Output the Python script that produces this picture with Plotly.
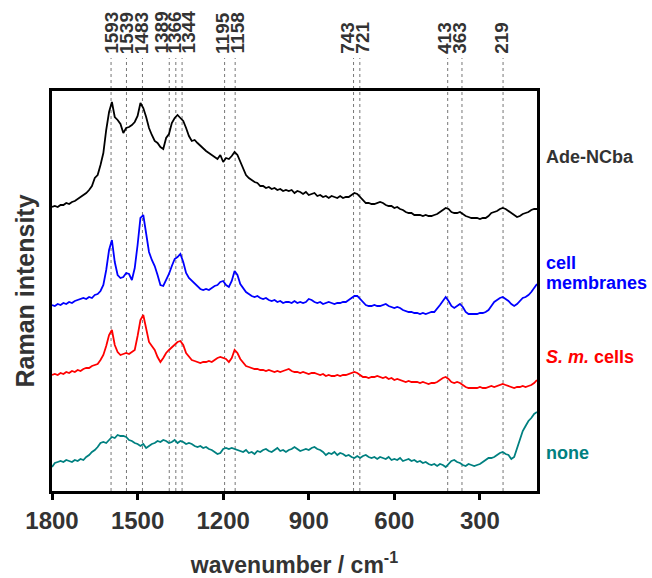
import plotly.graph_objects as go

# wavenumber grid (cm^-1), shared by all spectra
wavenumber = list(range(1800, 99, -10))

ade_ncba = [284, 285, 284, 286, 286, 288, 287, 289, 290, 292, 294, 296, 298, 301, 305, 313, 316, 326, 338, 361,
            379, 389, 374, 371, 367, 358, 363, 364, 366, 369, 375, 388, 383, 374, 363, 356, 350, 348, 344, 342,
            353, 357, 368, 373, 376, 373, 370, 363, 355, 350, 351, 348, 345, 343, 340, 338, 336, 334, 332, 336,
            329, 333, 332, 335, 339, 336, 329, 322, 316, 313, 311, 309, 308, 305, 305, 303, 304, 302, 303, 301,
            302, 300, 301, 300, 301, 298, 300, 299, 297, 299, 296, 297, 298, 295, 296, 294, 295, 293, 295, 294,
            293, 295, 293, 294, 294, 296, 298, 297, 294, 291, 288, 288, 287, 287, 288, 289, 288, 286, 285, 285,
            283, 284, 282, 281, 279, 278, 278, 276, 276, 276, 275, 276, 275, 275, 276, 277, 279, 281, 283, 282,
            279, 278, 278, 279, 277, 275, 274, 273, 273, 273, 272, 273, 273, 275, 278, 279, 280, 282, 283, 282,
            280, 278, 276, 274, 275, 277, 278, 279, 281, 282, 282]

cell_membranes = [186, 185, 187, 186, 188, 187, 189, 188, 190, 191, 192, 193, 192, 194, 193, 196, 197, 200, 206, 221,
                  241, 251, 229, 216, 213, 214, 218, 217, 211, 223, 246, 273, 276, 255, 239, 231, 225, 216, 206, 205,
                  211, 217, 225, 232, 234, 237, 229, 218, 213, 210, 207, 205, 202, 201, 202, 201, 203, 205, 206, 209,
                  210, 206, 204, 210, 220, 216, 207, 203, 199, 197, 195, 194, 195, 193, 192, 193, 191, 190, 191, 189,
                  190, 188, 189, 189, 188, 190, 188, 189, 188, 189, 192, 191, 189, 188, 189, 187, 188, 189, 188, 187,
                  188, 188, 189, 189, 191, 193, 195, 195, 192, 189, 186, 185, 185, 186, 185, 185, 186, 187, 185, 184,
                  183, 184, 183, 181, 180, 179, 179, 178, 178, 177, 178, 177, 178, 179, 179, 182, 186, 190, 194, 190,
                  185, 183, 185, 187, 184, 179, 177, 177, 177, 177, 178, 178, 179, 181, 185, 189, 191, 193, 194, 192,
                  190, 187, 185, 187, 190, 193, 194, 196, 199, 203, 207]

sm_cells = [116, 117, 116, 118, 117, 119, 118, 120, 119, 121, 120, 122, 123, 123, 125, 126, 127, 131, 136, 145,
            156, 161, 146, 139, 136, 137, 138, 137, 139, 141, 155, 171, 176, 161, 149, 145, 141, 134, 129, 133,
            138, 141, 144, 146, 149, 150, 146, 138, 134, 131, 130, 129, 128, 129, 129, 130, 129, 131, 133, 134,
            133, 132, 129, 133, 141, 138, 132, 128, 125, 124, 123, 122, 122, 121, 121, 120, 121, 120, 119, 120,
            119, 120, 121, 122, 120, 119, 119, 118, 119, 118, 117, 118, 118, 117, 116, 117, 115, 116, 115, 115,
            116, 115, 116, 116, 117, 118, 119, 118, 116, 114, 114, 113, 114, 114, 115, 114, 113, 114, 112, 113,
            111, 112, 111, 110, 109, 110, 109, 109, 109, 108, 109, 108, 107, 108, 108, 109, 111, 113, 114, 112,
            109, 108, 109, 108, 106, 104, 103, 103, 103, 103, 104, 103, 103, 104, 105, 104, 105, 106, 107, 106,
            105, 104, 103, 104, 104, 105, 104, 105, 106, 108, 111]

none = [24, 28, 29, 30, 29, 31, 30, 29, 31, 30, 32, 31, 34, 36, 39, 41, 44, 48, 49, 48,
        51, 54, 53, 56, 55, 55, 54, 51, 50, 48, 47, 45, 47, 43, 45, 47, 48, 50, 49, 51,
        50, 48, 49, 51, 48, 50, 49, 47, 48, 47, 45, 44, 45, 43, 44, 42, 41, 39, 37, 38,
        42, 43, 42, 43, 42, 41, 40, 39, 41, 38, 39, 37, 40, 39, 41, 42, 40, 39, 41, 43,
        40, 41, 39, 41, 42, 44, 42, 40, 41, 42, 41, 43, 44, 42, 41, 39, 36, 38, 37, 39,
        36, 38, 37, 35, 36, 34, 33, 35, 33, 35, 36, 34, 33, 34, 32, 34, 33, 32, 34, 31,
        32, 31, 33, 30, 31, 32, 30, 31, 29, 30, 28, 29, 27, 26, 27, 25, 27, 26, 24, 27,
        30, 31, 29, 28, 26, 25, 27, 26, 25, 26, 27, 29, 31, 33, 33, 34, 36, 38, 39, 37,
        36, 32, 34, 43, 51, 60, 65, 70, 73, 77, 79]

peak_positions = [1593, 1539, 1483, 1389, 1366, 1344, 1195, 1158, 743, 721, 413, 363, 219]
peak_labels = [str(p) for p in peak_positions]
# small horizontal pixel offsets of the labels (they are spread apart in the original)
label_shift = [1, 0, -1, -7.5, -1, 6, -1.5, 2, -5.5, 3, -2.5, -2, -1]

x_ticks = [1800, 1500, 1200, 900, 600, 300]

series = [
    ("Ade-NCba", ade_ncba, "#000000"),
    ("cell membranes", cell_membranes, "#0000ff"),
    ("S. m. cells", sm_cells, "#ff0000"),
    ("none", none, "#008080"),
]

FONT = "Liberation Sans, Arial, sans-serif"
TXT = "#333333"

fig = go.Figure()
for name, vals, col in series:
    fig.add_trace(go.Scatter(x=wavenumber, y=vals, mode="lines", name=name,
                             line=dict(color=col, width=1.8), showlegend=False))

shapes = []
annotations = []
for p, lab, sh in zip(peak_positions, peak_labels, label_shift):
    shapes.append(dict(type="line", xref="x", yref="paper", x0=p, x1=p, y0=0, y1=1.0825,
                       line=dict(color="#777777", width=1, dash="dot"), layer="below"))
    annotations.append(dict(x=p, y=1.088, xref="x", yref="paper", text="<b>" + lab + "</b>",
                            showarrow=False, textangle=-90, yanchor="bottom", xanchor="center",
                            xshift=sh,
                            font=dict(family=FONT, size=19, color=TXT)))

side = [
    ("Ade-NCba", 0.835, TXT),
    ("cell", 0.57, "#0000ff"),
    ("membranes", 0.52, "#0000ff"),
    ("<i>S. m.</i> cells", 0.335, "#ff0000"),
    ("none", 0.095, "#008080"),
]
for txt, yy, col in side:
    annotations.append(dict(x=1.015, y=yy, xref="paper", yref="paper", text="<b>" + txt + "</b>",
                            showarrow=False, xanchor="left", yanchor="middle",
                            font=dict(family=FONT, size=18, color=col)))

fig.update_layout(
    width=652, height=578,
    margin=dict(l=52, r=115, t=91, b=87),
    plot_bgcolor="white", paper_bgcolor="white",
    shapes=shapes, annotations=annotations,
    xaxis=dict(range=[1800, 100], tickvals=x_ticks, ticktext=["<b>%d</b>" % t for t in x_ticks],
               ticks="outside", ticklen=6, tickwidth=3, tickcolor="black",
               showline=True, linewidth=3, linecolor="black", mirror=True,
               showgrid=False, zeroline=False, automargin=False,
               tickfont=dict(family=FONT, size=24, color=TXT),
               title=dict(text="<b>wavenumber / cm<sup>-1</sup></b>", standoff=32,
                          font=dict(family=FONT, size=23, color=TXT))),
    yaxis=dict(range=[0, 400], showticklabels=False, ticks="",
               showline=True, linewidth=3, linecolor="black", mirror=True,
               showgrid=False, zeroline=False, automargin=False,
               title=dict(text="<b>Raman intensity</b>", standoff=8,
                          font=dict(family=FONT, size=25, color=TXT))),
)

fig.write_html("out.html")
